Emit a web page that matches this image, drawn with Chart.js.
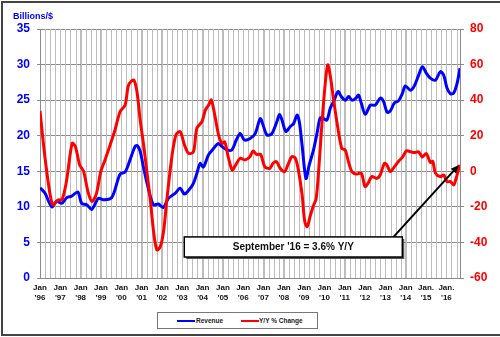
<!DOCTYPE html>
<html>
<head>
<meta charset="utf-8">
<script src="https://cdn.jsdelivr.net/npm/chart.js@4"></script>
<style>
  body { margin: 0; background: #fff; font-family: "Liberation Sans", Arial, sans-serif; }
  #wrap { position: relative; width: 500px; height: 337px; overflow: hidden; }
  #frame { position: absolute; left: 1px; top: 1px; width: 500px; height: 331px;
           border-left: 2px solid #444; border-top: 2px solid #444; border-bottom: 2px solid #444; }
  #units { position: absolute; left: 13px; top: 11px; font-size: 9px; font-weight: bold; color: #0000ff; }
  #legend { position: absolute; left: 157px; top: 312px; width: 159px; height: 15px;
            border: 1px solid #777; background: #fff; font-size: 6.5px; font-weight: bold; color: #222; }
  #legend .ln { position: absolute; top: 7px; width: 18px; height: 2px; }
  #legend .tx { position: absolute; top: 4px; }
  canvas { position: absolute; left: 0; top: 0; }
</style>
</head>
<body>
<div id="wrap">
  <div id="frame"></div>
  <canvas id="chart" width="500" height="337"></canvas>
  <div id="units">Billions/$</div>
  <div id="legend">
    <span class="ln" style="left:19px;background:#0000ff"></span><span class="tx" style="left:38px">Revenue</span>
    <span class="ln" style="left:83px;background:#ff0000"></span><span class="tx" style="left:101px">Y/Y % Change</span>
  </div>
</div>
<script>
// Revenue, billions of $ (left axis) - dates as decimal years
const revDates = [
  1996.00, 1996.25, 1996.58, 1996.82, 1997.07, 1997.32, 1997.56, 1997.86, 1998.05, 1998.30,
  1998.55, 1998.87, 1999.12, 1999.53, 1999.94, 2000.19, 2000.43, 2000.68, 2000.79, 2000.93,
  2001.09, 2001.33, 2001.58, 2001.83, 2002.07, 2002.32, 2002.65, 2002.90, 2003.11, 2003.39,
  2003.55, 2003.72, 2003.88, 2004.04, 2004.29, 2004.54, 2004.78, 2004.95, 2005.20, 2005.44,
  2005.66, 2005.85, 2006.06, 2006.34, 2006.59, 2006.84, 2007.00, 2007.17, 2007.41, 2007.66,
  2007.79, 2007.91, 2008.10, 2008.32, 2008.48, 2008.65, 2008.76, 2008.89, 2009.09, 2009.25,
  2009.46, 2009.63, 2009.79, 2009.96, 2010.12, 2010.29, 2010.45, 2010.67, 2010.83, 2011.03,
  2011.19, 2011.35, 2011.52, 2011.68, 2011.81, 2012.01, 2012.26, 2012.50, 2012.75, 2012.91,
  2013.08, 2013.24, 2013.44, 2013.64, 2013.83, 2013.98, 2014.23, 2014.42, 2014.62, 2014.82,
  2015.01, 2015.21, 2015.46, 2015.70, 2015.87, 2016.03, 2016.20, 2016.36, 2016.53, 2016.67
];
const revValues = [
  12.7, 11.9, 10.0, 10.8, 10.5, 11.3, 11.5, 12.1, 10.5, 10.3,
  9.65, 11.2, 11.0, 11.3, 14.6, 14.9, 16.6, 18.5, 18.6, 17.8,
  15.6, 12.6, 10.3, 10.4, 9.9, 11.2, 11.9, 12.6, 11.8, 12.6,
  13.3, 14.7, 16.1, 15.6, 17.3, 18.2, 18.9, 18.5, 18.0, 18.0,
  19.4, 20.3, 19.4, 19.6, 20.3, 22.4, 21.3, 20.1, 20.3, 22.0,
  23.0, 22.2, 20.6, 21.3, 21.7, 22.9, 22.0, 18.9, 14.0, 15.9,
  18.0, 20.3, 22.5, 22.4, 22.2, 23.9, 24.8, 26.2, 25.5, 25.0,
  25.5, 25.0, 25.2, 25.7, 24.6, 23.0, 24.3, 24.3, 25.3, 24.8,
  23.3, 23.5, 24.6, 24.9, 25.9, 27.0, 26.4, 27.0, 28.4, 29.7,
  28.8, 28.1, 27.8, 29.0, 28.5, 26.7, 25.9, 26.0, 27.4, 29.5
];

// Year-over-year % change (right axis)
const yoyDates = [
  1996.00, 1996.25, 1996.50, 1996.65, 1996.89, 1997.08, 1997.30, 1997.58, 1997.74, 1997.95,
  1998.15, 1998.36, 1998.56, 1998.78, 1998.99, 1999.20, 1999.45, 1999.69, 1999.94, 2000.19,
  2000.36, 2000.61, 2000.77, 2000.94, 2001.10, 2001.26, 2001.42, 2001.59, 2001.75, 2001.92,
  2002.08, 2002.25, 2002.49, 2002.69, 2002.90, 2003.11, 2003.31, 2003.55, 2003.72, 2003.97,
  2004.14, 2004.30, 2004.43, 2004.60, 2004.79, 2004.96, 2005.09, 2005.26, 2005.46, 2005.63,
  2005.85, 2006.08, 2006.32, 2006.49, 2006.66, 2006.86, 2007.06, 2007.31, 2007.47, 2007.64,
  2007.82, 2008.04, 2008.20, 2008.40, 2008.57, 2008.73, 2008.90, 2009.03, 2009.15, 2009.31,
  2009.47, 2009.59, 2009.71, 2009.87, 2010.03, 2010.16, 2010.28, 2010.44, 2010.61, 2010.85,
  2011.02, 2011.18, 2011.35, 2011.59, 2011.81, 2012.00, 2012.17, 2012.33, 2012.58, 2012.74,
  2012.95, 2013.07, 2013.24, 2013.44, 2013.64, 2013.84, 2014.04, 2014.23, 2014.43, 2014.63,
  2014.82, 2015.01, 2015.21, 2015.33, 2015.46, 2015.70, 2015.87, 2016.03, 2016.20, 2016.36,
  2016.48, 2016.59, 2016.67
];
const yoyValues = [
  33.9, 7.3, -13.3, -18.9, -16.1, -16.0, -5.8, 15.7, 14.0, 3.6,
  -0.2, -11.5, -17.0, -12.4, -0.2, 6.4, 14.8, 23.2, 33.5, 37.3,
  48.5, 51.3, 44.8, 27.9, 14.8, -0.2, -15.2, -33.9, -44.2, -42.4,
  -33.9, -15.2, 8.2, 20.4, 22.3, 14.8, 10.1, 10.9, 24.2, 27.9,
  34.5, 37.3, 40.1, 31.7, 20.4, 15.7, 16.5, 8.2, 0.7, 3.6,
  7.3, 6.4, 8.0, 11.4, 9.5, 9.5, 2.6, 1.7, 4.5, 5.4,
  1.7, -0.2, 3.6, 8.2, 7.3, -0.2, -13.3, -28.3, -31.1, -24.6,
  -18.9, -15.5, -0.2, 26.0, 48.5, 59.8, 54.1, 41.0, 27.9, 12.9,
  12.0, 5.4, -0.2, -1.6, -1.0, -8.6, -6.2, -3.0, -4.0, -2.1,
  4.5, 3.6, -0.2, 2.5, 5.5, 8.0, 11.5, 11.0, 10.5, 11.0,
  8.0, 10.0, 5.0, 5.5, -1.0, -3.0, -2.1, -5.8, -5.8, -7.7,
  -3.9, 0.7, 3.6
];

const yearTicks = [1996, 1997, 1998, 1999, 2000, 2001, 2002, 2003, 2004, 2005, 2006,
  2007, 2008, 2009, 2010, 2011, 2012, 2013, 2014, 2015, 2016];
const yearLabels = [
  ['Jan', "'96"], ['Jan', "'97"], ['Jan', "'98"], ['Jan', "'99"], ['Jan', "'00"], ['Jan', "'01"],
  ['Jan', "'02"], ['Jan', "'03"], ['Jan', "'04"], ['Jan', "'05"], ['Jan', "'06"], ['Jan', "'07"],
  ['Jan', "'08"], ['Jan', "'09"], ['Jan', "'10"], ['Jan', "'11"], ['Jan', "'12"], ['Jan', "'13"],
  ['Jan', "'14"], ['Jan.', "'15"], ['Jan.', "'16"]
];
const xMin = 1996, xMax = 2016.67;

// callout: "September '16 = 3.6% Y/Y"
const calloutText = "September '16 = 3.6% Y/Y";
const calloutBox = { x0: 2003.1, x1: 2013.83, yTop: -36.9, yBottom: -48.2 };
const calloutArrow = { fromX: 2013.4, fromY: -36.9, toX: 2016.62, toY: 3.6 };

const FONT = '"Liberation Sans", Arial, sans-serif';

// vertical quarter gridlines, drawn under the data
const quarterGrid = {
  id: 'quarterGrid',
  beforeDatasetsDraw(chart) {
    const { ctx, chartArea: a, scales: { x } } = chart;
    ctx.save();
    ctx.lineWidth = 1;
    for (let q = 1; xMin + q * 0.25 < xMax - 0.01; q++) {
      const px = Math.round(x.getPixelForValue(xMin + q * 0.25)) + 0.5;
      ctx.strokeStyle = '#bdbdbd';
      ctx.beginPath();
      ctx.moveTo(px, a.top);
      ctx.lineTo(px, a.bottom);
      ctx.stroke();
    }
    ctx.restore();
  }
};

const callout = {
  id: 'callout',
  afterDatasetsDraw(chart) {
    const { ctx, scales: { x, y1 } } = chart;
    const bx0 = x.getPixelForValue(calloutBox.x0), bx1 = x.getPixelForValue(calloutBox.x1);
    const by0 = y1.getPixelForValue(calloutBox.yTop), by1 = y1.getPixelForValue(calloutBox.yBottom);
    ctx.save();
    // arrow
    const ax0 = x.getPixelForValue(calloutArrow.fromX), ay0 = y1.getPixelForValue(calloutArrow.fromY);
    const ax1 = x.getPixelForValue(calloutArrow.toX), ay1 = y1.getPixelForValue(calloutArrow.toY);
    const ang = Math.atan2(ay1 - ay0, ax1 - ax0);
    ctx.strokeStyle = '#000';
    ctx.lineWidth = 2;
    ctx.beginPath();
    ctx.moveTo(ax0, ay0);
    ctx.lineTo(ax1 - 6 * Math.cos(ang), ay1 - 6 * Math.sin(ang));
    ctx.stroke();
    ctx.fillStyle = '#000';
    ctx.beginPath();
    ctx.moveTo(ax1, ay1);
    ctx.lineTo(ax1 - 9 * Math.cos(ang - 0.4), ay1 - 9 * Math.sin(ang - 0.4));
    ctx.lineTo(ax1 - 9 * Math.cos(ang + 0.4), ay1 - 9 * Math.sin(ang + 0.4));
    ctx.closePath();
    ctx.fill();
    // box with small shadow
    ctx.fillStyle = '#555';
    ctx.fillRect(bx0 + 2, by0 + 2, bx1 - bx0, by1 - by0);
    ctx.fillStyle = '#fff';
    ctx.fillRect(bx0, by0, bx1 - bx0, by1 - by0);
    ctx.strokeStyle = '#000';
    ctx.lineWidth = 1.5;
    ctx.strokeRect(bx0, by0, bx1 - bx0, by1 - by0);
    ctx.fillStyle = '#111';
    ctx.font = 'bold 10px ' + FONT;
    ctx.textAlign = 'center';
    ctx.textBaseline = 'middle';
    ctx.fillText(calloutText, (bx0 + bx1) / 2, (by0 + by1) / 2 + 0.5);
    ctx.restore();
  }
};

new Chart(document.getElementById('chart'), {
  type: 'line',
  data: {
    datasets: [
      {
        label: 'Revenue',
        data: revDates.map((d, i) => ({ x: d, y: revValues[i] })),
        yAxisID: 'y',
        borderColor: '#0000ff',
        borderWidth: 3,
        pointRadius: 0,
        tension: 0.3,
        order: 2,
      },
      {
        label: 'Y/Y % Change',
        data: yoyDates.map((d, i) => ({ x: d, y: yoyValues[i] })),
        yAxisID: 'y1',
        borderColor: '#ff0000',
        borderWidth: 3,
        pointRadius: 0,
        tension: 0.3,
        order: 1,
      },
    ],
  },
  options: {
    responsive: false,
    animation: false,
    devicePixelRatio: 1,
    layout: { padding: { top: 29, left: 0, right: 0, bottom: 0 } },
    plugins: { legend: { display: false }, tooltip: { enabled: false } },
    scales: {
      x: {
        type: 'linear',
        min: xMin,
        max: xMax,
        afterBuildTicks: (scale) => {
          scale.ticks = yearTicks.map(v => ({ value: v })).concat([{ value: xMax }]);
        },
        afterFit: (scale) => { scale.height = 59; },
        grid: {
          color: (c) => (c.tick && (c.tick.value === xMin || c.tick.value === xMax)) ? '#8a8a8a' : '#bdbdbd',
          lineWidth: 1,
          drawTicks: false,
        },
        border: { color: '#8a8a8a' },
        ticks: {
          autoSkip: false,
          maxRotation: 0,
          padding: 5,
          color: '#111',
          font: { family: FONT, size: 8, weight: 'bold', lineHeight: 1.25 },
          callback: (v) => {
            const i = yearTicks.indexOf(Math.round(v));
            return (i >= 0 && Math.abs(v - yearTicks[i]) < 0.01) ? yearLabels[i] : '';
          },
        },
      },
      y: {
        position: 'left',
        min: 0,
        max: 35,
        afterFit: (scale) => { scale.width = 40; },
        grid: { color: '#8a8a8a', lineWidth: 1, tickLength: 3 },
        border: { color: '#8a8a8a' },
        ticks: {
          stepSize: 5,
          padding: 7,
          color: '#0000ff',
          font: { family: FONT, size: 12, weight: 'bold' },
        },
      },
      y1: {
        position: 'right',
        min: -60,
        max: 80,
        afterFit: (scale) => { scale.width = 40; },
        grid: { drawOnChartArea: false, color: '#8a8a8a', tickLength: 4 },
        border: { color: '#8a8a8a' },
        ticks: {
          stepSize: 20,
          padding: 6,
          color: '#ff0000',
          font: { family: FONT, size: 12, weight: 'bold' },
        },
      },
    },
  },
  plugins: [quarterGrid, callout],
});
</script>
</body>
</html>
